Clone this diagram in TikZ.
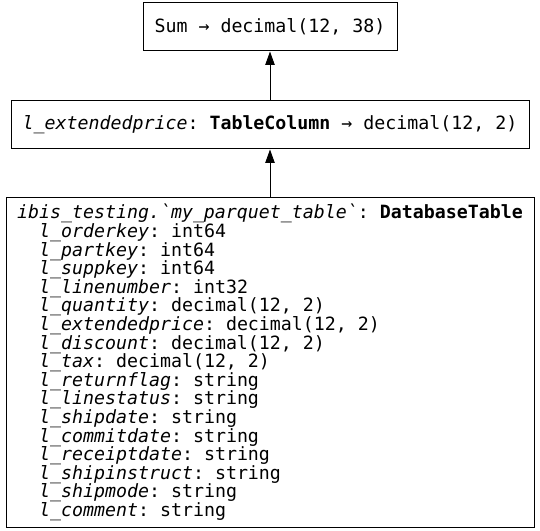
\documentclass[tikz,border=0pt]{standalone}
\usepackage{fontspec}
\setmonofont{DejaVu Sans Mono}
\usetikzlibrary{arrows.meta}
\newcommand{\ind}{\phantom{xx}}
\newcommand{\col}[1]{\textit{#1}}
\newcommand{\boxfont}{\ttfamily\fontsize{13.7}{13.95}\selectfont\lineskiplimit-20pt\relax}

\begin{document}
\begin{tikzpicture}[x=0.75pt,y=-0.75pt,
  exprbox/.style={draw,line width=0.75pt,font=\boxfont,
    minimum height=36pt,inner sep=0pt},
  flow/.style={-{Triangle[length=10pt,width=7pt]},line width=0.75pt}]
\useasboundingbox (0,0) rectangle (540,531);

% nodes
\node[exprbox,minimum width=190.5pt] (sum) at (270,27) {Sum → decimal(12, 38)};
\node[exprbox,minimum width=388.5pt] (column) at (270,125)
  {\col{l\_extendedprice}: \textbf{TableColumn} → decimal(12, 2)};
\node[exprbox,minimum width=396pt,minimum height=246.75pt,align=left] (table) at (270,362.5)
  {\col{ibis\_testing.\textasciigrave my\_parquet\_table\textasciigrave}: \textbf{DatabaseTable}\\
   \ind\col{l\_orderkey}: int64\\
   \ind\col{l\_partkey}: int64\\
   \ind\col{l\_suppkey}: int64\\
   \ind\col{l\_linenumber}: int32\\
   \ind\col{l\_quantity}: decimal(12, 2)\\
   \ind\col{l\_extendedprice}: decimal(12, 2)\\
   \ind\col{l\_discount}: decimal(12, 2)\\
   \ind\col{l\_tax}: decimal(12, 2)\\
   \ind\col{l\_returnflag}: string\\
   \ind\col{l\_linestatus}: string\\
   \ind\col{l\_shipdate}: string\\
   \ind\col{l\_commitdate}: string\\
   \ind\col{l\_receiptdate}: string\\
   \ind\col{l\_shipinstruct}: string\\
   \ind\col{l\_shipmode}: string\\
   \ind\col{l\_comment}: string};

% arrows
\draw[flow] (column) -- (sum);
\draw[flow] (table) -- (column);
\end{tikzpicture}
\end{document}
